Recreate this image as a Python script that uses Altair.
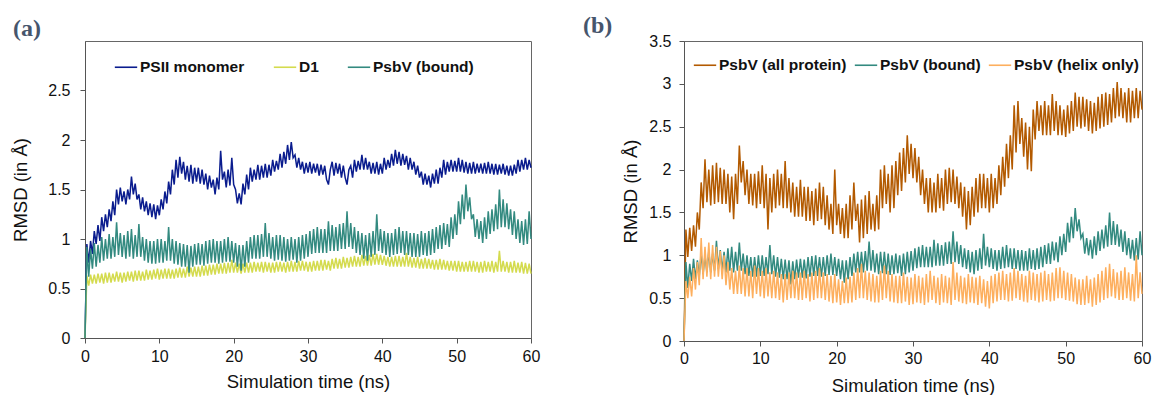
import altair as alt
import pandas as pd

# ---------------- data (upper / lower envelope, 0.25 ns sampling) ----------------
STEP = 0.25
TIME = [0.0] + [round(STEP * i, 2) for i in range(1, 241)]

PSII_MONOMER = [
    [0.95, 0.76, 0.98, 0.85], [1.08, 0.95, 1.14, 0.98], [1.22, 1.08, 1.25, 1.12], [1.30, 1.18, 1.38, 1.24], [1.50, 1.35, 1.52, 1.38],
    [1.48, 1.35, 1.50, 1.40], [1.63, 1.45, 1.56, 1.40], [1.45, 1.30, 1.42, 1.28], [1.38, 1.24, 1.36, 1.22], [1.35, 1.20, 1.34, 1.24],
    [1.40, 1.30, 1.48, 1.36], [1.58, 1.45, 1.70, 1.55], [1.80, 1.62, 1.83, 1.66], [1.78, 1.60, 1.74, 1.58], [1.75, 1.56, 1.72, 1.58],
    [1.72, 1.56, 1.70, 1.55], [1.66, 1.50, 1.64, 1.52], [1.60, 1.45, 1.62, 1.50], [1.89, 1.60, 1.68, 1.52], [1.70, 1.54, 1.82, 1.55],
    [1.50, 1.36, 1.46, 1.35], [1.56, 1.45, 1.65, 1.50], [1.72, 1.58, 1.70, 1.60], [1.75, 1.60, 1.74, 1.62], [1.76, 1.62, 1.75, 1.64],
    [1.80, 1.68, 1.79, 1.70], [1.86, 1.72, 1.88, 1.76], [1.95, 1.80, 1.98, 1.82], [1.85, 1.72, 1.82, 1.70], [1.78, 1.66, 1.77, 1.67],
    [1.78, 1.66, 1.76, 1.67], [1.76, 1.64, 1.75, 1.65], [1.74, 1.60, 1.55, 1.70], [1.78, 1.64, 1.77, 1.66], [1.76, 1.62, 1.74, 1.62],
    [1.55, 1.70, 1.74, 1.62], [1.80, 1.68, 1.79, 1.70], [1.85, 1.70, 1.82, 1.70], [1.78, 1.66, 1.77, 1.66], [1.78, 1.65, 1.76, 1.66],
    [1.82, 1.70, 1.80, 1.72], [1.86, 1.74, 1.90, 1.76], [1.88, 1.74, 1.86, 1.75], [1.84, 1.70, 1.82, 1.70], [1.78, 1.65, 1.74, 1.62],
    [1.68, 1.55, 1.66, 1.55], [1.64, 1.52, 1.66, 1.56], [1.70, 1.56, 1.72, 1.62], [1.80, 1.65, 1.78, 1.68], [1.80, 1.68, 1.79, 1.68],
    [1.82, 1.68, 1.80, 1.67], [1.78, 1.66, 1.77, 1.66], [1.78, 1.66, 1.76, 1.67], [1.76, 1.66, 1.77, 1.66], [1.78, 1.66, 1.76, 1.65],
    [1.76, 1.65, 1.75, 1.66], [1.76, 1.65, 1.74, 1.64], [1.74, 1.64, 1.75, 1.66], [1.80, 1.68, 1.80, 1.70], [1.82, 1.70, 1.80, 1.72],
]

D1 = [
    [0.63, 0.53, 0.64, 0.55], [0.64, 0.55, 0.65, 0.56], [0.65, 0.55, 0.66, 0.56], [0.66, 0.56, 0.65, 0.57], [0.67, 0.57, 0.66, 0.56],
    [0.66, 0.57, 0.67, 0.58], [0.67, 0.57, 0.68, 0.58], [0.68, 0.58, 0.67, 0.58], [0.69, 0.59, 0.68, 0.59], [0.69, 0.60, 0.70, 0.59],
    [0.69, 0.60, 0.70, 0.60], [0.70, 0.60, 0.69, 0.60], [0.70, 0.61, 0.71, 0.61], [0.70, 0.61, 0.72, 0.62], [0.71, 0.62, 0.72, 0.62],
    [0.72, 0.62, 0.73, 0.63], [0.73, 0.63, 0.74, 0.64], [0.74, 0.64, 0.75, 0.65], [0.75, 0.65, 0.76, 0.65], [0.76, 0.66, 0.79, 0.66],
    [0.76, 0.66, 0.75, 0.65], [0.75, 0.66, 0.76, 0.66], [0.76, 0.66, 0.77, 0.67], [0.76, 0.67, 0.77, 0.66], [0.77, 0.67, 0.76, 0.66],
    [0.76, 0.66, 0.77, 0.67], [0.77, 0.67, 0.76, 0.66], [0.77, 0.67, 0.78, 0.67], [0.77, 0.67, 0.78, 0.68], [0.78, 0.68, 0.77, 0.67],
    [0.77, 0.67, 0.78, 0.68], [0.78, 0.68, 0.79, 0.68], [0.79, 0.69, 0.78, 0.68], [0.80, 0.70, 0.81, 0.70], [0.80, 0.70, 0.82, 0.71],
    [0.81, 0.71, 0.82, 0.72], [0.83, 0.72, 0.82, 0.72], [0.84, 0.73, 0.83, 0.73], [0.84, 0.73, 0.85, 0.74], [0.85, 0.74, 0.84, 0.74],
    [0.83, 0.73, 0.82, 0.72], [0.82, 0.72, 0.83, 0.72], [0.83, 0.72, 0.82, 0.72], [0.86, 0.72, 0.82, 0.71], [0.81, 0.71, 0.82, 0.70],
    [0.80, 0.70, 0.81, 0.70], [0.80, 0.70, 0.79, 0.69], [0.79, 0.69, 0.80, 0.69], [0.79, 0.69, 0.78, 0.68], [0.78, 0.68, 0.78, 0.67],
    [0.78, 0.67, 0.77, 0.67], [0.77, 0.67, 0.78, 0.67], [0.78, 0.67, 0.77, 0.66], [0.77, 0.66, 0.78, 0.67], [0.77, 0.67, 0.78, 0.66],
    [0.77, 0.67, 0.88, 0.67], [0.78, 0.67, 0.77, 0.66], [0.77, 0.66, 0.78, 0.66], [0.76, 0.66, 0.77, 0.65], [0.76, 0.65, 0.75, 0.65],
]

PSBV_BOUND = [
    [0.92, 0.62, 0.90, 0.70], [0.96, 0.72, 0.94, 0.76], [1.02, 0.78, 1.00, 0.80], [1.05, 0.80, 1.02, 0.82], [1.17, 0.84, 1.06, 0.82],
    [1.04, 0.80, 1.08, 0.82], [1.10, 0.80, 1.04, 0.82], [1.15, 0.82, 1.02, 0.78], [1.00, 0.76, 0.98, 0.75], [0.98, 0.75, 1.00, 0.76],
    [1.00, 0.76, 0.98, 0.78], [1.12, 0.78, 1.00, 0.75], [0.98, 0.74, 0.96, 0.72], [0.95, 0.72, 0.94, 0.66], [0.93, 0.72, 0.95, 0.74],
    [0.96, 0.74, 0.95, 0.73], [0.98, 0.75, 0.99, 0.76], [1.00, 0.76, 0.98, 0.75], [0.98, 0.76, 1.00, 0.77], [1.02, 0.77, 0.98, 0.76],
    [0.96, 0.72, 0.94, 0.68], [0.94, 0.72, 0.98, 0.76], [1.02, 0.80, 1.04, 0.80], [1.04, 0.80, 1.05, 0.82], [1.16, 0.82, 1.06, 0.80],
    [1.02, 0.78, 1.04, 0.79], [1.04, 0.78, 1.02, 0.77], [1.00, 0.78, 1.02, 0.79], [1.00, 0.76, 1.02, 0.78], [1.04, 0.80, 1.05, 0.82],
    [1.08, 0.85, 1.10, 0.86], [1.12, 0.86, 1.10, 0.86], [1.10, 0.86, 1.18, 0.88], [1.14, 0.88, 1.12, 0.88], [1.15, 0.90, 1.16, 0.90],
    [1.28, 0.92, 1.16, 0.90], [1.12, 0.86, 1.08, 0.84], [1.06, 0.80, 1.04, 0.78], [1.06, 0.82, 1.08, 0.84], [1.25, 0.88, 1.10, 0.86],
    [1.08, 0.84, 1.06, 0.82], [1.06, 0.84, 1.10, 0.85], [1.12, 0.86, 1.08, 0.84], [1.08, 0.84, 1.06, 0.82], [1.06, 0.82, 1.05, 0.82],
    [1.08, 0.84, 1.06, 0.83], [1.08, 0.84, 1.10, 0.86], [1.12, 0.90, 1.14, 0.90], [1.16, 0.94, 1.15, 0.92], [1.22, 1.00, 1.25, 1.04],
    [1.38, 1.15, 1.45, 1.20], [1.55, 1.28, 1.42, 1.20], [1.25, 1.02, 1.20, 1.00], [1.18, 0.96, 1.22, 1.00], [1.28, 1.05, 1.30, 1.08],
    [1.35, 1.10, 1.50, 1.12], [1.40, 1.12, 1.36, 1.10], [1.30, 1.04, 1.28, 1.00], [1.20, 0.96, 1.18, 0.94], [1.20, 0.95, 1.28, 1.00],
]

PSBV_ALL = [
    [1.30, 0.98, 1.32, 1.05], [1.35, 1.10, 1.50, 1.30], [1.85, 1.55, 2.12, 1.62], [2.00, 1.58, 2.05, 1.60], [2.08, 1.62, 2.02, 1.60],
    [2.00, 1.60, 1.95, 1.50], [1.92, 1.42, 1.95, 1.60], [2.28, 1.85, 2.10, 1.70], [2.00, 1.60, 1.95, 1.58], [1.95, 1.55, 1.98, 1.60],
    [2.05, 1.55, 1.95, 1.30], [1.90, 1.50, 1.95, 1.55], [2.00, 1.58, 1.95, 1.55], [2.10, 1.55, 1.90, 1.50], [1.85, 1.45, 1.80, 1.45],
    [1.88, 1.45, 1.80, 1.40], [1.80, 1.40, 1.75, 1.35], [1.78, 1.40, 1.85, 1.42], [1.80, 1.35, 1.70, 1.30], [1.60, 1.25, 2.00, 1.35],
    [1.60, 1.25, 1.55, 1.20], [1.60, 1.20, 1.70, 1.30], [1.85, 1.40, 1.60, 1.15], [1.65, 1.20, 1.70, 1.25], [1.75, 1.30, 1.60, 1.28],
    [1.70, 1.30, 2.00, 1.55], [2.05, 1.60, 1.95, 1.50], [2.05, 1.55, 2.10, 1.70], [2.20, 1.75, 2.25, 1.85], [2.40, 1.95, 2.30, 1.90],
    [2.25, 1.85, 2.15, 1.70], [2.00, 1.60, 1.90, 1.50], [1.90, 1.50, 1.85, 1.50], [1.95, 1.55, 1.90, 1.52], [2.00, 1.60, 2.02, 1.62],
    [2.00, 1.60, 1.92, 1.55], [1.85, 1.45, 1.80, 1.30], [1.75, 1.35, 1.80, 1.45], [1.90, 1.50, 1.95, 1.55], [1.95, 1.55, 1.90, 1.50],
    [1.95, 1.55, 1.90, 1.60], [2.05, 1.70, 2.15, 1.80], [2.30, 1.90, 2.40, 2.00], [2.75, 2.20, 2.80, 2.30], [2.60, 2.15, 2.55, 2.00],
    [2.50, 1.98, 2.70, 2.35], [2.80, 2.45, 2.75, 2.40], [2.80, 2.40, 2.75, 2.40], [2.88, 2.45, 2.80, 2.40], [2.75, 2.40, 2.70, 2.38],
    [2.75, 2.42, 2.80, 2.45], [2.90, 2.50, 2.85, 2.48], [2.85, 2.50, 2.82, 2.45], [2.80, 2.42, 2.78, 2.45], [2.85, 2.48, 2.88, 2.50],
    [2.90, 2.52, 2.88, 2.55], [2.95, 2.60, 3.02, 2.62], [2.95, 2.60, 2.90, 2.55], [2.95, 2.55, 2.92, 2.60], [2.95, 2.60, 2.92, 2.70],
]

PSBV_HELIX = [
    [0.70, 0.50, 0.75, 0.52], [0.85, 0.60, 0.92, 0.65], [1.20, 0.72, 1.10, 0.75], [1.15, 0.72, 1.12, 0.75], [1.10, 0.75, 1.05, 0.72],
    [1.00, 0.65, 0.92, 0.60], [0.85, 0.55, 0.82, 0.55], [0.88, 0.55, 0.85, 0.52], [0.85, 0.52, 0.82, 0.50], [0.88, 0.55, 0.85, 0.52],
    [0.82, 0.50, 0.85, 0.52], [0.80, 0.50, 0.82, 0.50], [0.80, 0.48, 0.78, 0.45], [0.78, 0.48, 0.80, 0.50], [0.82, 0.50, 0.80, 0.48],
    [0.80, 0.48, 0.82, 0.50], [0.78, 0.46, 0.80, 0.48], [0.82, 0.50, 0.85, 0.50], [0.80, 0.48, 0.78, 0.46], [0.76, 0.44, 0.78, 0.45],
    [0.72, 0.42, 0.70, 0.44], [0.74, 0.44, 0.75, 0.45], [0.80, 0.48, 0.85, 0.50], [0.90, 0.50, 0.82, 0.48], [0.80, 0.46, 0.78, 0.45],
    [0.76, 0.45, 0.82, 0.48], [0.88, 0.50, 0.82, 0.46], [0.78, 0.45, 0.76, 0.44], [0.76, 0.44, 0.80, 0.46], [0.75, 0.42, 0.74, 0.43],
    [0.78, 0.45, 0.76, 0.44], [0.74, 0.42, 0.78, 0.45], [0.82, 0.48, 0.76, 0.44], [0.74, 0.42, 0.78, 0.45], [0.76, 0.44, 0.74, 0.42],
    [0.92, 0.48, 0.80, 0.46], [0.76, 0.44, 0.74, 0.43], [0.78, 0.45, 0.75, 0.44], [0.74, 0.42, 0.76, 0.44], [0.72, 0.40, 0.70, 0.38],
    [0.76, 0.44, 0.78, 0.46], [0.80, 0.48, 0.82, 0.48], [0.78, 0.46, 0.80, 0.47], [0.85, 0.50, 0.82, 0.48], [0.78, 0.46, 0.76, 0.45],
    [0.82, 0.48, 0.80, 0.47], [0.78, 0.45, 0.80, 0.46], [0.82, 0.48, 0.78, 0.46], [0.80, 0.47, 0.85, 0.50], [0.86, 0.50, 0.82, 0.48],
    [0.80, 0.47, 0.78, 0.46], [0.74, 0.43, 0.72, 0.42], [0.72, 0.42, 0.76, 0.44], [0.72, 0.40, 0.74, 0.42], [0.78, 0.45, 0.82, 0.48],
    [0.86, 0.50, 0.90, 0.52], [0.84, 0.50, 0.80, 0.48], [0.82, 0.48, 0.86, 0.50], [0.80, 0.47, 0.78, 0.46], [1.00, 0.50, 0.80, 0.55],
]

SERIES_A = ["PSII monomer", "D1", "PsbV (bound)"]
COLORS_A = ["#0A1C8E", "#D4DB4E", "#338A80"]
SERIES_B = ["PsbV (all protein)", "PsbV (bound)", "PsbV (helix only)"]
COLORS_B = ["#B35A00", "#338A80", "#FDAF5E"]

Y_TICKS_A = [0, 0.5, 1, 1.5, 2, 2.5]
Y_TICKS_B = [0, 0.5, 1, 1.5, 2, 2.5, 3, 3.5]
X_TICKS = [0, 10, 20, 30, 40, 50, 60]


def flat(rows):
    vals = [v for r in rows for v in r]
    assert len(vals) == 240, len(vals)
    return [0.0] + vals


def frame(names, arrays):
    recs = []
    for name, arr in zip(names, arrays):
        for t, v in zip(TIME, flat(arr)):
            recs.append({"series": name, "t": t, "rmsd": v})
    return pd.DataFrame(recs)


df_a = frame(SERIES_A, [PSII_MONOMER, D1, PSBV_BOUND])
df_b = frame(SERIES_B, [PSBV_ALL, PSBV_BOUND, PSBV_HELIX])

FONT = "Liberation Sans"
TXT = "#111111"
AXC = "#555555"


def panel(df, names, colors, ymax, yticks, w, h, leg_x, leg_y, colpad,
          ytitle_pad, ylab_pad, xlab_pad, xtitle_pad, tag, tag_x, tag_y):
    x_axis = alt.Axis(values=X_TICKS, grid=False, tickSize=5, labelPadding=xlab_pad,
                      titlePadding=xtitle_pad, labelFont=FONT, titleFont=FONT,
                      labelFontSize=16, titleFontSize=18.5, titleFontWeight="normal",
                      labelColor=TXT, titleColor=TXT, domainColor=AXC, tickColor=AXC,
                      labelFlush=False)
    y_axis = alt.Axis(values=yticks, format="~g", grid=False, tickSize=5, labelPadding=ylab_pad,
                      titlePadding=ytitle_pad, labelFont=FONT, titleFont=FONT,
                      labelFontSize=16, titleFontSize=18.5, titleFontWeight="normal",
                      labelColor=TXT, titleColor=TXT, domainColor=AXC, tickColor=AXC,
                      labelFlush=False)
    legend = alt.Legend(orient="none", legendX=leg_x, legendY=leg_y, direction="horizontal",
                        title=None, symbolType="stroke", symbolSize=500, symbolStrokeWidth=1.6,
                        labelFont=FONT, labelFontWeight="bold", labelFontSize=15.5,
                        labelColor=TXT, labelOffset=2, columnPadding=colpad, padding=0)
    lines = alt.Chart(df).mark_line(strokeWidth=1.5).encode(
        x=alt.X("t:Q", title="Simulation time (ns)", scale=alt.Scale(domain=[0, 60], nice=False),
                axis=x_axis),
        y=alt.Y("rmsd:Q", title="RMSD (in Å)", scale=alt.Scale(domain=[0, ymax], nice=False),
                axis=y_axis),
        color=alt.Color("series:N", scale=alt.Scale(domain=names, range=colors), legend=legend),
        detail="series:N",
    )
    label = alt.Chart(pd.DataFrame({"tag": [tag]})).mark_text(
        font="Liberation Serif", fontWeight="bold", fontSize=24, color="#46556C",
        align="left", baseline="alphabetic"
    ).encode(x=alt.value(tag_x), y=alt.value(tag_y), text="tag:N")
    return alt.layer(lines, label).properties(width=w, height=h)


chart_a = panel(df_a, SERIES_A, COLORS_A, 3, Y_TICKS_A, 446, 297, 29, 14, 25,
                17, 10, 5, 8, "(a)", -72, -5)
chart_b = panel(df_b, SERIES_B, COLORS_B, 3.5, Y_TICKS_B, 458, 300, 9, 12, 4,
                8, 8, 4, 10, "(b)", -101, -8)

chart = alt.hconcat(chart_a, chart_b, spacing=41).resolve_scale(color="independent").resolve_legend(
    color="independent"
).properties(
    padding={"left": 11, "top": 13, "right": 0, "bottom": 0},
    background="white",
).configure_view(stroke="#666666", strokeWidth=1)

chart.save("out.html", embed_options={"renderer": "svg", "actions": False})
